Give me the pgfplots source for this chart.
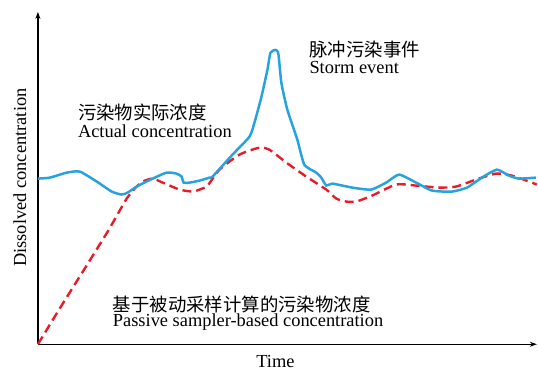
\documentclass[border=0pt]{standalone}
\usepackage{pgfplots}
\pgfplotsset{compat=1.18}
\usepackage{pgfplotstable}
\usepackage{fontspec}
\setmainfont{Liberation Serif}
\newfontfamily\cjk{Noto Sans CJK SC}
\usetikzlibrary{arrows.meta}
\definecolor{actualblue}{RGB}{38,162,222}
\definecolor{passivered}{RGB}{232,28,40}

% values in picture units (x = time, py = distance from top)
\pgfplotstableread{
x py
38 179
50 178
67 173
80 172
97 182
112 192
122 195
128 193
137 187
153 179
167 173
177 174
182 177
184 183
190 183
200 181
210 178
213 177
233 155
250 137
255 123
262 97
268 70
271 53
276 50
279 54
282 83
288 110
298 140
305 165
317 173
322 178
327 186
333 184
353 188
372 190
387 183
400 175
417 183
433 191
453 192
468 188
483 178
498 170
510 176
520 179
537 178
}\actual

\pgfplotstableread{
x py
38 345
60 309
85 269
108 232
120 211
127 199
135 189
143 182
153 179
163 183
180 190
193 192
200 190
208 186
220 170
240 155
260 148
270 150
287 163
307 177
327 190
337 199
347 202
357 202
373 196
397 185
417 186
440 188
457 187
477 180
497 174
513 176
533 183
538 185
}\passive

\begin{document}
\begin{tikzpicture}
\begin{axis}[
  scale only axis,
  width=500bp, height=333bp,
  xmin=38, xmax=538, ymin=26, ymax=359,
  enlargelimits=false,
  axis lines=left,
  axis line style={line width=1.4pt, -{Stealth[length=7pt,width=5pt]}},
  ticks=none,
  clip=false,
]
\path (axis cs:0,0) rectangle (axis cs:538,371);
\addplot[color=passivered, line width=2.4pt, dash pattern=on 9pt off 5pt, smooth, tension=0.4]
  table[x=x, y expr=371-\thisrow{py}] {\passive};
\addplot[color=actualblue, line width=2.5pt, smooth, tension=0.35]
  table[x=x, y expr=371-\thisrow{py}] {\actual};
\node[anchor=west, inner sep=0] at (axis cs:78,258) {\fontsize{18.5}{22}\selectfont\cjk 污染物实际浓度};
\node[anchor=west, inner sep=0] at (axis cs:78,239) {\fontsize{18.5}{22}\selectfont Actual concentration};
\node[anchor=west, inner sep=0] at (axis cs:310,321) {\fontsize{18.5}{22}\selectfont\cjk 脉冲污染事件};
\node[anchor=west, inner sep=0] at (axis cs:310,303) {\fontsize{18.5}{22}\selectfont Storm event};
\node[anchor=west, inner sep=0] at (axis cs:113,66) {\fontsize{18.5}{22}\selectfont\cjk 基于被动采样计算的污染物浓度};
\node[anchor=west, inner sep=0] at (axis cs:113,48) {\fontsize{18.5}{22}\selectfont Passive sampler-based concentration};
\node[anchor=base, inner sep=0] at (axis cs:276,3) {\fontsize{18.5}{22}\selectfont Time};
\node[inner sep=0, rotate=90] at (axis cs:20,193) {\fontsize{18.5}{22}\selectfont Dissolved concentration};
\end{axis}
\end{tikzpicture}
\end{document}
